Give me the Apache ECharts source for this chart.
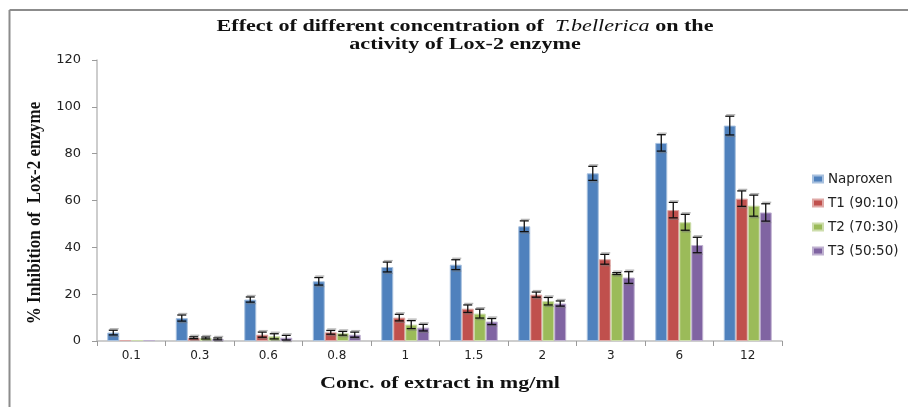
<!DOCTYPE html>
<html>
<head>
<meta charset="utf-8">
<script src="https://cdn.jsdelivr.net/npm/echarts@6/dist/echarts.min.js"></script>
<style>html,body{margin:0;padding:0;background:#fff;}#c{width:908px;height:407px;}</style>
</head>
<body>
<div id="c"></div>
<script>
const categories = ['0.1','0.3','0.6','0.8','1','1.5','2','3','6','12'];
const seriesNames = ['Naproxen','T1 (90:10)','T2 (70:30)','T3 (50:50)'];
const naproxen = [3.6, 9.8, 17.7, 25.5, 31.6, 32.6, 49.0, 71.6, 84.6, 92.0];
const t1 = [0.4, 1.4, 2.7, 3.7, 10.0, 13.8, 19.8, 34.9, 55.9, 60.8];
const t2 = [0.4, 1.3, 2.0, 3.3, 7.0, 11.7, 17.0, 28.8, 50.7, 57.8];
const t3 = [0.4, 0.9, 1.4, 2.7, 5.7, 8.3, 16.0, 27.1, 41.0, 54.9];
const naproxenErr = [1.0, 1.3, 1.1, 1.6, 2.1, 2.1, 2.3, 3.0, 3.5, 4.0];
const t1Err = [0, 0.4, 1.1, 0.8, 1.4, 1.6, 1.1, 2.1, 3.3, 3.3];
const t2Err = [0, 0.4, 1.1, 0.8, 1.7, 1.9, 1.6, 0.4, 3.4, 4.5];
const t3Err = [0, 0.4, 1.0, 1.1, 1.4, 1.3, 1.1, 2.5, 3.3, 3.7];
const yTicks = [0, 20, 40, 60, 80, 100, 120];

const values = [naproxen, t1, t2, t3];
const errs = [naproxenErr, t1Err, t2Err, t3Err];
const colors = ['#4F81BD', '#C0504D', '#9BBB59', '#8064A2'];
const borders = ['#A7C0DE', '#DFA9A7', '#CDDDAC', '#BFB1D0'];
const catGap = 0.30;

const chart = echarts.init(document.getElementById('c'));

const barSeries = values.map((vals, k) => ({
  name: seriesNames[k],
  type: 'bar',
  data: vals,
  barGap: '0%',
  barCategoryGap: (catGap * 100) + '%',
  itemStyle: { color: colors[k], borderColor: borders[k], borderWidth: 1 },
  z: 2
}));

const errSeries = values.map((vals, k) => ({
  name: 'err' + k,
  type: 'custom',
  z: 5,
  silent: true,
  data: vals.map((v, i) => [i, v, errs[k][i]]),
  encode: { x: 0, y: 1 },
  renderItem: function (params, api) {
    const ci = api.value(0), v = api.value(1), e = api.value(2);
    if (!e) return null;
    const band = api.size([1, 0])[0];
    const bw = band * (1 - catGap) / 4;
    const c = api.coord([ci, v]);
    const x = c[0] + (k - 1.5) * bw;
    const top = api.coord([ci, v + e])[1];
    const bot = api.coord([ci, Math.max(v - e, 0)])[1];
    const hw = 4.5;
    const st = { stroke: '#111', lineWidth: 1.3 };
    const sh = { stroke: 'rgba(120,120,120,0.55)', lineWidth: 1.3 };
    return {
      type: 'group',
      children: [
        { type: 'line', shape: { x1: x - hw + 1, y1: top - 1.5, x2: x + hw + 1, y2: top - 1.5 }, style: sh },
        { type: 'line', shape: { x1: x - hw + 1, y1: bot + 1.5, x2: x + hw + 1, y2: bot + 1.5 }, style: sh },
        { type: 'line', shape: { x1: x, y1: top, x2: x, y2: bot }, style: st },
        { type: 'line', shape: { x1: x - hw, y1: top, x2: x + hw, y2: top }, style: st },
        { type: 'line', shape: { x1: x - hw, y1: bot, x2: x + hw, y2: bot }, style: st }
      ]
    };
  }
}));

const serifBold = 'bold 17px "Liberation Serif", "DejaVu Serif", serif';
const serifItalic = 'italic 17px "Liberation Serif", "DejaVu Serif", serif';

const option = {
  animation: false,
  backgroundColor: '#ffffff',
  grid: { left: 97, right: 126, top: 60, bottom: 66, containLabel: false },
  legend: {
    data: seriesNames,
    orient: 'vertical',
    left: 807,
    top: 167,
    itemWidth: 10,
    itemHeight: 7,
    itemGap: 10,
    icon: 'rect',
    textStyle: { fontFamily: 'DejaVu Sans', fontSize: 13.5, color: '#222' }
  },
  xAxis: {
    type: 'category',
    data: categories,
    axisLine: { lineStyle: { color: '#BDBDBD', width: 1.5 } },
    axisTick: { show: true, length: 5, lineStyle: { color: '#9A9A9A' } },
    axisLabel: { fontFamily: 'DejaVu Sans', fontSize: 12, color: '#222', margin: 9 },
    splitLine: { show: false }
  },
  yAxis: {
    type: 'value',
    min: yTicks[0],
    max: yTicks[yTicks.length - 1],
    interval: 20,
    axisLine: { show: true, lineStyle: { color: '#BDBDBD', width: 1.5 } },
    axisTick: { show: true, length: 5, lineStyle: { color: '#9A9A9A' } },
    axisLabel: { fontFamily: 'DejaVu Sans', fontSize: 13, color: '#222', margin: 16 },
    splitLine: { show: false }
  },
  graphic: [
    { type: 'line', shape: { x1: 9.5, y1: 10, x2: 908, y2: 10 }, style: { stroke: '#8C8C8C', lineWidth: 2 } },
    { type: 'line', shape: { x1: 9.5, y1: 10, x2: 9.5, y2: 407 }, style: { stroke: '#8C8C8C', lineWidth: 2 } },
    {
      type: 'text', x: 465, y: 27, scaleX: 1.3,
      style: {
        text: '{b|Effect of different concentration of  }{i|T.bellerica}{b| on the}',
        rich: {
          b: { font: serifBold, fill: '#111' },
          i: { font: serifItalic, fill: '#111' }
        },
        align: 'center', verticalAlign: 'middle'
      }
    },
    {
      type: 'text', x: 465, y: 45, scaleX: 1.3,
      style: { text: 'activity of Lox-2 enzyme', font: serifBold, fill: '#111', align: 'center', verticalAlign: 'middle' }
    },
    {
      type: 'text', x: 35, y: 213, rotation: Math.PI / 2, scaleY: 1.15,
      style: { text: '% Inhibition of  Lox-2 enzyme', font: serifBold, fill: '#111', align: 'center', verticalAlign: 'middle' }
    },
    {
      type: 'text', x: 440, y: 384, scaleX: 1.3,
      style: { text: 'Conc. of extract in mg/ml', font: serifBold, fill: '#111', align: 'center', verticalAlign: 'middle' }
    }
  ],
  series: barSeries.concat(errSeries)
};
chart.setOption(option);
</script>
</body>
</html>
